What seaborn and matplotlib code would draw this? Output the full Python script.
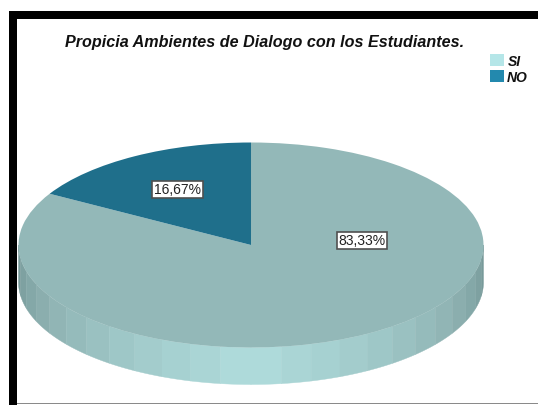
import numpy as np
import matplotlib
matplotlib.use("Agg")
import matplotlib.pyplot as plt
from matplotlib.patches import Rectangle
import seaborn as sns

# Survey shares
categories = ["SI", "NO"]
shares = [83.33, 16.67]
value_labels = ["83,33%", "16,67%"]
top_colors = ["#93b8b8", "#1f6f8b"]
legend_colors = ["#b5e6e8", "#2389ae"]
title = "Propicia Ambientes de Dialogo con los Estudiantes."

sns.set_theme(style="white")
plt.rcParams["font.family"] = ["Liberation Sans", "DejaVu Sans"]

W, H = 538, 406
fig = plt.figure(figsize=(W / 100, H / 100), dpi=100, facecolor="white")
ax = fig.add_axes([0, 0, 1, 1])

# Ellipse geometry of the tilted disc, in figure pixels
cx, cy, rx, ry = 251, 246, 232.5, 102.5
depth = 37 / ry


def px(x, y):
    """Figure pixel position (y from the top) to data coordinates."""
    return (x - cx) / rx, (cy - y) / ry


# Top face of the disc
ax.pie(shares, colors=top_colors, startangle=150, radius=1,
       wedgeprops={"linewidth": 0})
ax.set_aspect("auto")
ax.set_xlim(px(0, 0)[0], px(W, 0)[0])
ax.set_ylim(px(0, H)[1], px(0, 0)[1])
ax.axis("off")

# Side wall, shaded in 7.5 degree facets from the rim edges to the front
half = sns.blend_palette(["#789a9a", "#8fb3b3", "#a0c9c9", "#aedada"], 12)
facet_colors = list(half) + list(half)[::-1]
for i, color in enumerate(facet_colors):
    t = np.radians(np.linspace(180 + 7.5 * i, 187.5 + 7.5 * i, 12))
    xs = np.r_[np.cos(t), np.cos(t)[::-1]]
    ys = np.r_[np.sin(t), np.sin(t)[::-1] - depth]
    ax.fill(xs, ys, color=color, lw=0.3, zorder=0.5)

# Value boxes
box = dict(boxstyle="square,pad=0.13", fc="white", ec="#505050", lw=1.2)
for text, pos in zip(value_labels, [(362, 241.5), (177.5, 190.5)]):
    x, y = px(*pos)
    ax.text(x, y, text, ha="center", va="center", fontsize=10,
            color="#222222", bbox=box, zorder=5)

# Title and legend
x, y = px(265, 42)
ax.text(x, y, title, ha="center", va="center", fontsize=11.6,
        fontweight="bold", fontstyle="italic", color="#111111")
for name, color, top, tx in zip(categories, legend_colors, [55, 71], [508, 507]):
    x0, y0 = px(490, top + 12)
    ax.add_patch(Rectangle((x0, y0), 14 / rx, 12 / ry, fc=color, ec="none"))
    x1, y1 = px(tx, top + 7.5)
    ax.text(x1, y1, name, ha="left", va="center", fontsize=10,
            fontweight="bold", fontstyle="italic", color="#111111")

# Picture frame: heavy black at top and left, thin grey at the bottom
for rect, color in [((9, 0, 8, H - 12), "black"),
                    ((9, H - 20, W - 9, 8), "black"),
                    ((17, 1, W - 17, 1.2), "#8a8a8a")]:
    l, b, w, h = rect
    fig.add_artist(Rectangle((l / W, b / H), w / W, h / H, fc=color, ec="none",
                             transform=fig.transFigure))

fig.savefig("out.png", dpi=100, facecolor="white")
